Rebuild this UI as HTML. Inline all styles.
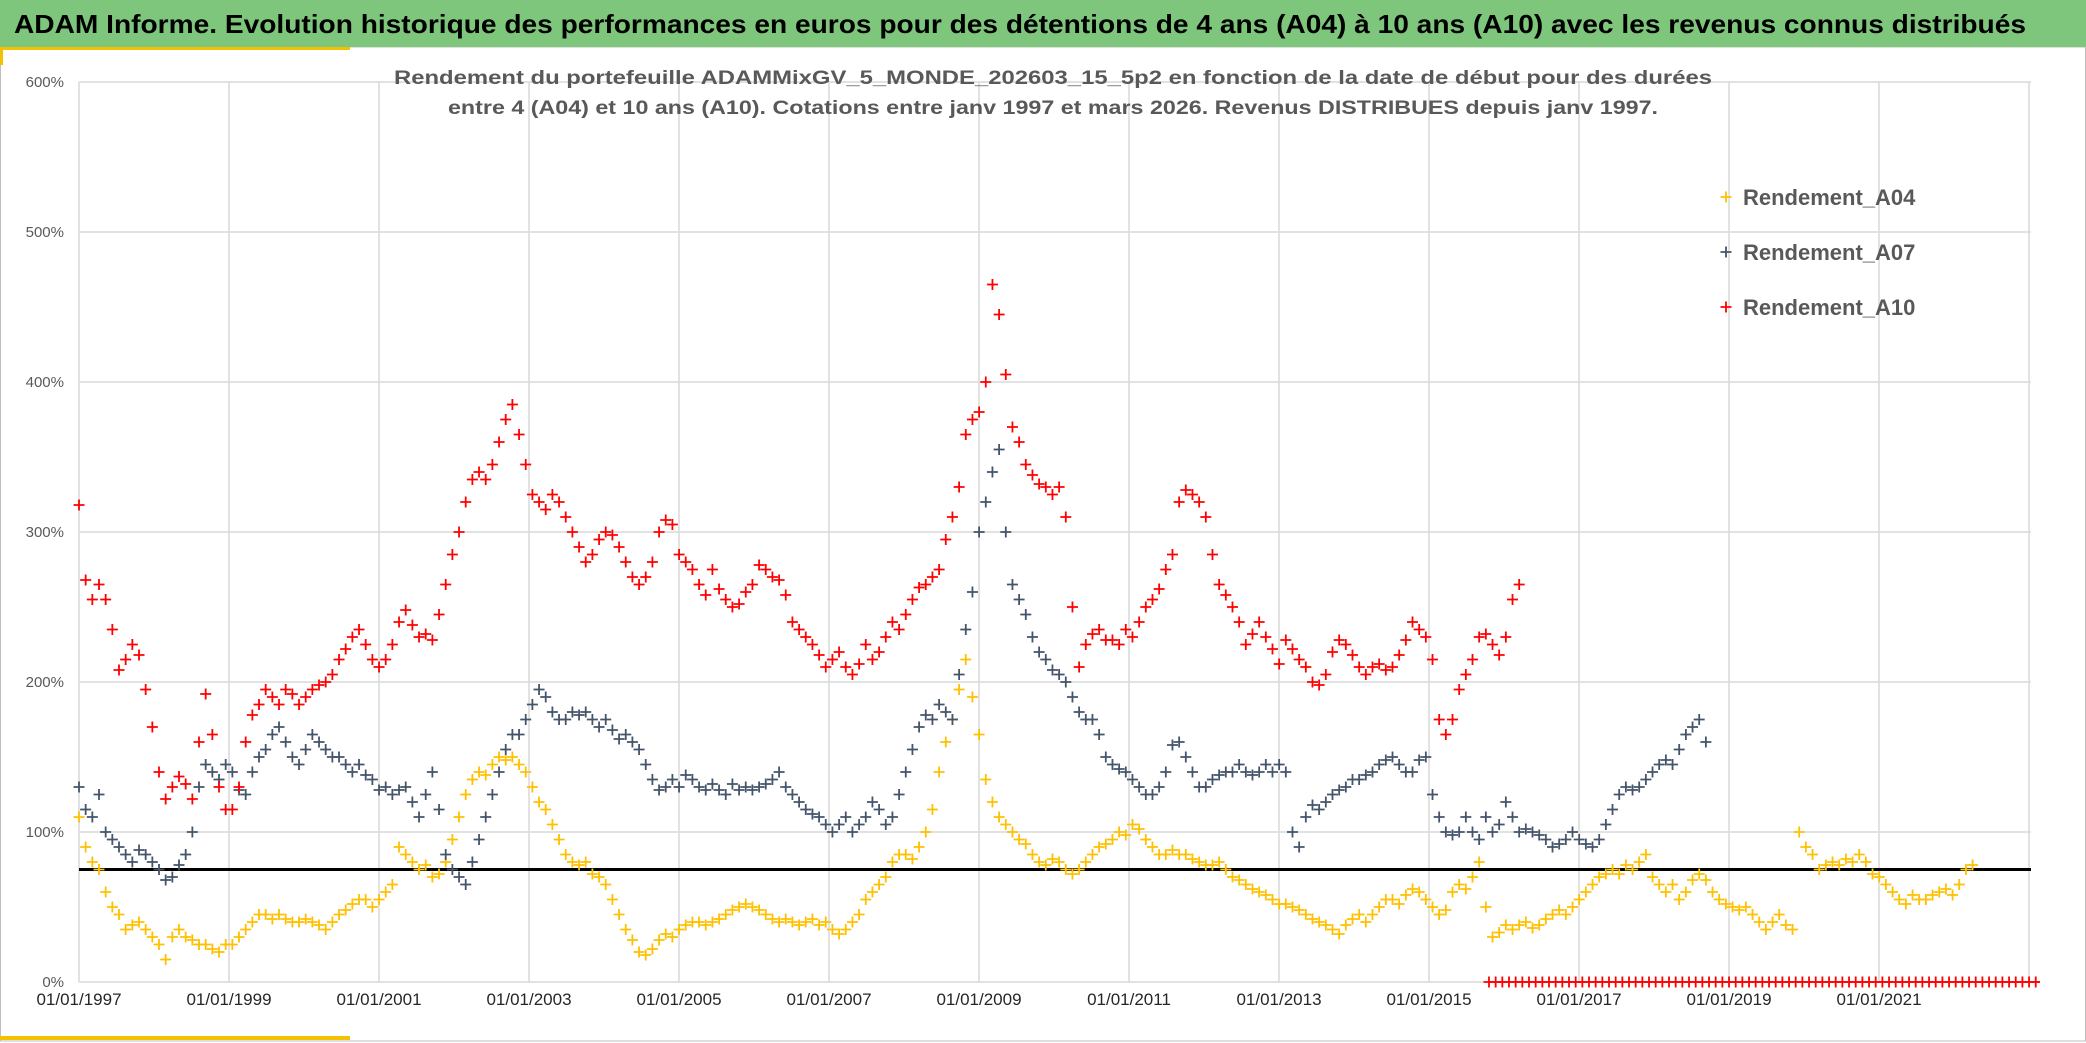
<!DOCTYPE html>
<html><head><meta charset="utf-8"><style>
html,body{margin:0;padding:0;background:#fff;}
svg{display:block;}
</style></head><body>
<svg id="chart" width="2086" height="1043" viewBox="0 0 2086 1043" xmlns="http://www.w3.org/2000/svg" font-family="'Liberation Sans', sans-serif">
  <rect x="0" y="0" width="2086" height="1043" fill="#fff"/>
  <rect x="0.5" y="47" width="2085" height="994" fill="none" stroke="#bfbfbf" stroke-width="1"/>
  <rect x="0" y="0" width="2086" height="47" fill="#7dc67b"/>
  <text x="14" y="33" font-size="26" font-weight="bold" fill="#000" textLength="2012" lengthAdjust="spacingAndGlyphs">ADAM Informe. Evolution historique des performances en euros pour des détentions de 4 ans (A04) à 10 ans (A10) avec les revenus connus distribués</text>
  <rect x="0" y="47" width="350" height="3" fill="#f5c000"/>
  <rect x="0" y="47" width="3" height="18" fill="#f5c000"/>
  <rect x="0" y="1036" width="350" height="4" fill="#f5c000"/>
  <g id="grid"></g>
  <g id="yaxis"></g>
  <g id="xaxis"></g>
  <text x="1053" y="84" font-size="19" font-weight="bold" fill="#595959" text-anchor="middle" textLength="1318" lengthAdjust="spacingAndGlyphs">Rendement du portefeuille ADAMMixGV_5_MONDE_202603_15_5p2  en fonction de la date de début pour des durées</text>
  <text x="1053" y="114" font-size="19" font-weight="bold" fill="#595959" text-anchor="middle" textLength="1210" lengthAdjust="spacingAndGlyphs">entre 4 (A04) et 10 ans (A10). Cotations entre janv 1997 et mars 2026. Revenus DISTRIBUES depuis janv 1997.</text>
  <defs><clipPath id="plotclip"><rect x="70" y="70" width="1970" height="925"/></clipPath></defs>
  <g id="series" clip-path="url(#plotclip)"></g>
  <g id="legend"></g>
</svg>
<script>
const yTicks = [0,100,200,300,400,500,600];
const xTickYears = [1997,1999,2001,2003,2005,2007,2009,2011,2013,2015,2017,2019,2021];
const xTickLabels = ["01/01/1997","01/01/1999","01/01/2001","01/01/2003","01/01/2005","01/01/2007","01/01/2009","01/01/2011","01/01/2013","01/01/2015","01/01/2017","01/01/2019","01/01/2021"];
const seriesNames = ["Rendement_A04","Rendement_A07","Rendement_A10"];
const refLevel = 75;
const STEP_YEARS = 0.0889;
const startA10 = 1997.0;
const valuesA10 = [318,268,255,265,255,235,208,215,225,218,195,170,140,122,130,137,132,122,160,192,165,130,115,115,130,160,178,185,195,190,185,195,192,185,190,195,198,200,205,215,222,230,235,225,215,210,215,225,240,248,238,230,232,228,245,265,285,300,320,335,340,335,345,360,375,385,365,345,325,320,315,325,320,310,300,290,280,285,295,300,298,290,280,270,265,270,280,300,308,305,285,280,275,265,258,275,262,255,250,252,260,265,278,275,270,268,258,240,235,230,225,218,210,215,220,210,205,212,225,215,220,230,240,235,245,255,263,265,270,275,295,310,330,365,375,380,400,465,445,405,370,360,345,338,332,330,325,330,310,250,210,225,232,235,228,228,225,235,230,240,250,255,262,275,285,320,328,325,320,310,285,265,258,250,240,225,232,240,230,222,212,228,222,215,210,200,198,205,220,228,225,218,210,205,210,212,208,210,218,228,240,235,230,215,175,165,175,195,205,215,230,232,225,218,230,255,265];
const startA07 = 1997.0;
const valuesA07 = [130,115,110,125,100,95,90,85,80,88,85,80,75,68,70,78,85,100,130,145,140,135,145,140,128,125,140,150,155,165,170,160,150,145,155,165,160,155,150,150,145,140,145,138,135,128,130,125,128,130,120,110,125,140,115,85,75,70,65,80,95,110,125,140,155,165,165,175,185,195,190,180,175,175,180,178,180,175,170,175,168,162,165,160,155,145,135,128,130,135,130,138,135,130,128,132,128,125,132,128,130,128,130,132,135,140,130,125,120,115,112,110,105,100,105,110,100,105,110,120,115,105,110,125,140,155,170,178,175,185,180,175,205,235,260,300,320,340,355,300,265,255,245,230,220,215,208,205,200,190,180,175,175,165,150,145,142,140,135,130,125,125,130,140,158,160,150,140,130,130,135,138,140,140,145,140,138,140,145,140,145,140,100,90,110,118,115,120,125,128,130,135,135,138,140,145,148,150,145,140,140,148,150,125,110,100,98,100,110,100,95,110,100,105,120,110,100,102,100,98,95,90,92,95,100,95,92,90,95,105,115,125,130,128,130,135,140,145,148,145,155,165,170,175,160];
const startA04 = 1997.0;
const valuesA04 = [110,90,80,75,60,50,45,35,38,40,35,30,25,15,30,35,30,28,25,25,22,20,25,25,30,35,40,45,45,42,45,42,40,40,42,40,38,35,40,45,48,52,55,55,50,55,60,65,90,85,80,75,78,70,72,80,95,110,125,135,140,138,145,150,148,150,145,140,130,120,115,105,95,85,80,78,80,72,70,65,55,45,35,28,20,18,22,28,32,30,35,38,40,40,38,40,42,45,48,50,52,50,48,45,42,40,42,40,38,40,42,38,40,35,32,35,40,45,55,60,65,70,80,85,85,82,90,100,115,140,160,175,195,215,190,165,135,120,110,105,100,95,92,85,80,78,82,80,75,72,75,80,85,90,92,95,100,98,105,102,95,90,85,85,88,85,85,82,80,78,78,80,75,70,68,65,62,60,58,55,52,52,50,48,45,42,40,38,35,32,38,42,45,40,45,50,55,55,52,58,62,60,55,50,45,48,60,65,62,70,80,50,30,33,38,35,38,40,36,38,42,45,48,45,50,55,60,65,70,72,75,72,78,75,80,85,70,65,60,65,55,60,68,72,68,60,55,52,50,48,50,45,40,35,40,45,38,35,100,90,85,75,78,80,78,82,80,85,80,72,70,65,60,55,52,58,55,55,58,60,62,58,65,75,78];
const startZeroA10 = 2015.80;
const valuesZeroA10 = [0,0,0,0,0,0,0,0,0,0,0,0,0,0,0,0,0,0,0,0,0,0,0,0,0,0,0,0,0,0,0,0,0,0,0,0,0,0,0,0,0,0,0,0,0,0,0,0,0,0,0,0,0,0,0,0,0,0,0,0,0,0,0,0,0,0,0,0,0,0,0,0,0,0,0,0,0,0,0,0,0,0,0,0,0,0,0];

const X0 = 79, X1 = 2031, YEAR_PX = 75;
const Y0 = 982, PCT_PX = 1.5;
function xScale(t){ return X0 + (t - 1997) * YEAR_PX; }
function yScale(v){ return Y0 - v * PCT_PX; }
const NS = "http://www.w3.org/2000/svg";
function mk(tag, attrs, parent){ const e = document.createElementNS(NS, tag); for (const k in attrs) e.setAttribute(k, attrs[k]); parent.appendChild(e); return e; }

const grid = document.getElementById('grid');
yTicks.forEach(v => {
  const l = mk('line', {x1:X0, x2:X1, y1:yScale(v), y2:yScale(v), stroke:'#d9d9d9', 'stroke-width':1.5}, grid);
  
  
});
xTickYears.concat([2023]).forEach(yr => {
  const l = mk('line', {x1:xScale(yr), x2:xScale(yr), y1:yScale(600), y2:yScale(0), stroke:'#d9d9d9', 'stroke-width':1.5}, grid);
  
  
});
const yaxis = document.getElementById('yaxis');
yTicks.forEach(v => {
  const t = mk('text', {x:64, y:yScale(v)+5, 'font-size':15, fill:'#595959', 'text-anchor':'end'}, yaxis);
  t.textContent = v + '%';
  
  
});
const xaxis = document.getElementById('xaxis');
xTickYears.forEach((yr, i) => {
  const t = mk('text', {x:xScale(yr), y:1005, 'font-size':17, fill:'#262626', 'text-anchor':'middle'}, xaxis);
  t.textContent = xTickLabels[i];
  
  
});

const seriesLayer = document.getElementById('series');
const refLine = mk('line', {x1:X0, x2:X1, y1:yScale(refLevel), y2:yScale(refLevel), stroke:'#000', 'stroke-width':3}, seriesLayer);



function plus(cx, cy, color, parent){
  const s = 5.5;
  return mk('path', {d:`M${cx-s} ${cy}H${cx+s}M${cx} ${cy-s}V${cy+s}`, stroke:color, 'stroke-width':1.8, fill:'none'}, parent);
}
function drawSeries(values, start, color, name){
  const g = mk('g', {}, seriesLayer);
  
  
  values.forEach((v, i) => {
    const p = plus(xScale(start + i * STEP_YEARS), yScale(v), color, g);
    
    
  });
}
drawSeries(valuesA04, startA04, '#ffc000', 'series-a04');
drawSeries(valuesA07, startA07, '#44546a', 'series-a07');
drawSeries(valuesA10, startA10, '#ff0000', 'series-a10');
drawSeries(valuesZeroA10, startZeroA10, '#ff0000', 'series-a10-zero');

const legend = document.getElementById('legend');
const legendColors = ['#ffc000','#44546a','#ff0000'];
seriesNames.forEach((n, i) => {
  const cy = 197 + i * 55;
  const m = plus(1726, cy, legendColors[i], legend);
  
  
  const t = mk('text', {x:1743, y:cy+8, 'font-size':22, 'font-weight':'bold', fill:'#595959'}, legend);
  t.textContent = n;
  
  
});
</script>
</body></html>
